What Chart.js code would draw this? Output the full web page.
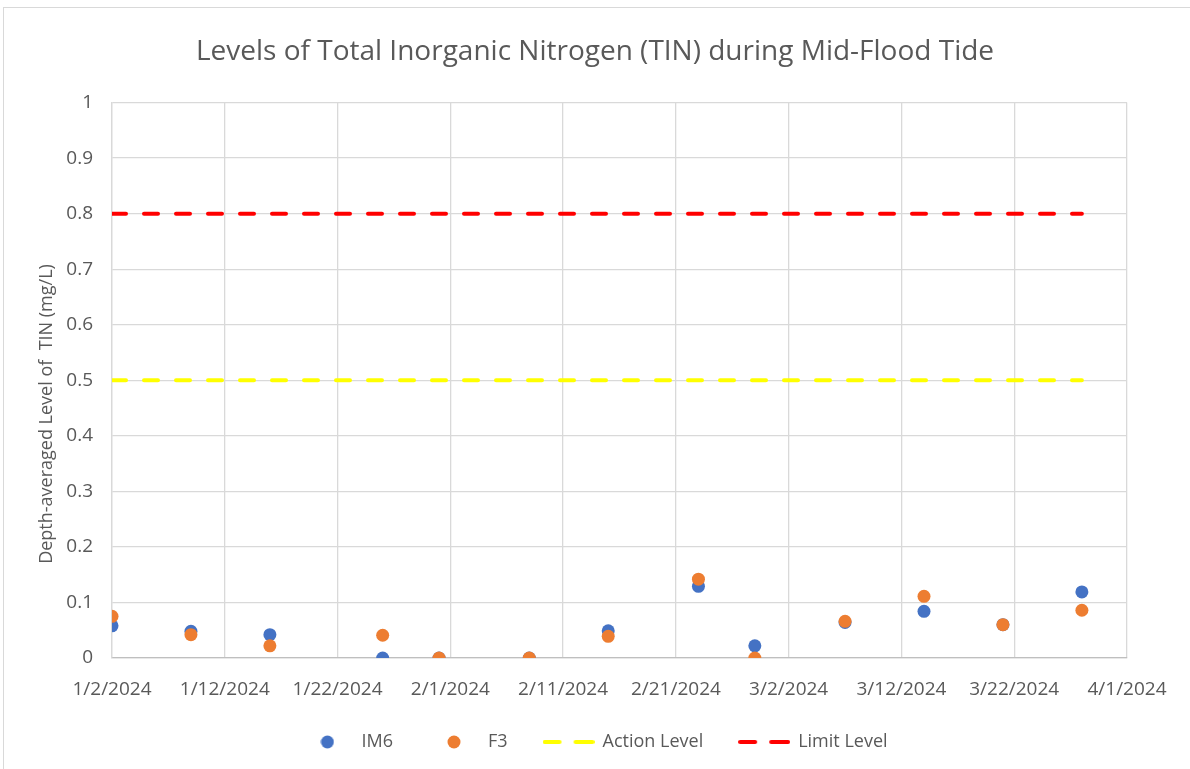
<!DOCTYPE html>
<html>
<head>
<meta charset="utf-8">
<script src="https://cdn.jsdelivr.net/npm/chart.js@4.4.1/dist/chart.umd.min.js"></script>
<style>
  html, body { margin:0; padding:0; background:#fff; overflow:hidden; }
  #frame { position:absolute; left:3px; top:7px; width:1400px; height:900px; border:1px solid #d9d9d9; }
  #wrap { position:absolute; left:0; top:0; width:1190px; height:769px; }
</style>
</head>
<body>
<div id="frame"></div>
<div id="wrap"><canvas id="tinChart" width="1190" height="769"></canvas></div>
<script>
// Sampling dates and TIN levels (mg/L)
const startDate = "2024-01-02";
const sampleDates = ["2024-01-02","2024-01-09","2024-01-16","2024-01-26","2024-01-31","2024-02-08","2024-02-15","2024-02-23","2024-02-28","2024-03-07","2024-03-14","2024-03-21","2024-03-28"];
const im6Values = [0.058, 0.048, 0.042, 0, 0, 0, 0.049, 0.129, 0.022, 0.064, 0.084, 0.060, 0.119];
const f3Values  = [0.075, 0.042, 0.022, 0.041, 0, 0, 0.039, 0.142, 0, 0.066, 0.111, 0.060, 0.086];
const actionLevel = 0.5;
const limitLevel = 0.8;
const xTickLabels = ["1/2/2024","1/12/2024","1/22/2024","2/1/2024","2/11/2024","2/21/2024","3/2/2024","3/12/2024","3/22/2024","4/1/2024"];
const yTitle = "Depth-averaged Level of  TIN (mg/L)";

const DAY = 86400000;
const dayOf = d => Math.round((Date.parse(d) - Date.parse(startDate)) / DAY);
const days = sampleDates.map(dayOf);
const firstDay = days[0], lastDay = days[days.length-1];

const FONT = "'Open Sans', 'Liberation Sans', sans-serif";
const TXT = "#595959";

// legend symbols
function dotIcon(color){
  const c = document.createElement("canvas"); c.width = 14; c.height = 14;
  const g = c.getContext("2d");
  g.fillStyle = color; g.beginPath(); g.arc(7, 7, 6.5, 0, Math.PI*2); g.fill();
  return c;
}
function dashIcon(color){
  const c = document.createElement("canvas"); c.width = 52; c.height = 6;
  const g = c.getContext("2d");
  g.strokeStyle = color; g.lineWidth = 4; g.lineCap = "round";
  g.beginPath(); g.moveTo(2, 3); g.lineTo(17, 3); g.moveTo(33, 3); g.lineTo(50, 3); g.stroke();
  return c;
}
const icons = [dotIcon("#4472C4"), dotIcon("#ED7D31"), dashIcon("#FFFF00"), dashIcon("#FF0000")];

// y axis title, placed like the original (a bit below centre)
const yTitlePlugin = {
  id:"yTitle",
  afterDraw(chart){
    const ctx = chart.ctx;
    ctx.save();
    ctx.translate(47, 414);
    ctx.rotate(-Math.PI/2);
    ctx.fillStyle = TXT;
    ctx.font = "18px " + FONT;
    ctx.textAlign = "center"; ctx.textBaseline = "middle";
    ctx.fillText(yTitle, 0, 0);
    ctx.restore();
  }
};

const data = {
  datasets: [
    { label:"IM6", type:"scatter", order:2, data: days.map((d,i)=>({x:d, y:im6Values[i]})),
      backgroundColor:"#4472C4", borderWidth:0, pointRadius:6.5, pointHoverRadius:6.5 },
    { label:"F3", type:"scatter", order:1, data: days.map((d,i)=>({x:d, y:f3Values[i]})),
      backgroundColor:"#ED7D31", borderWidth:0, pointRadius:6.5, pointHoverRadius:6.5 },
    { label:"Action Level", type:"line", order:3, data:[{x:firstDay, y:actionLevel},{x:lastDay, y:actionLevel}],
      borderColor:"#FFFF00", borderWidth:4, borderDash:[14,18], borderCapStyle:"round", pointRadius:0, fill:false },
    { label:"Limit Level", type:"line", order:4, data:[{x:firstDay, y:limitLevel},{x:lastDay, y:limitLevel}],
      borderColor:"#FF0000", borderWidth:4, borderDash:[14,18], borderCapStyle:"round", pointRadius:0, fill:false }
  ]
};

new Chart(document.getElementById("tinChart"), {
  type:"scatter",
  data:data,
  plugins:[yTitlePlugin],
  options:{
    responsive:false, animation:false,
    layout:{ padding:{ left:0, right:0, top:0, bottom:8 } },
    plugins:{
      tooltip:{ enabled:false },
      title:{ display:true, text:"Levels of Total Inorganic Nitrogen (TIN) during Mid-Flood Tide",
        color:TXT, font:{ family:FONT, size:28, weight:"normal" }, padding:{ top:35, bottom:34 } },
      legend:{ position:"bottom",
        labels:{ usePointStyle:true, pointStyleWidth:50, padding:36, color:TXT,
          font:{ family:FONT, size:18 },
          generateLabels: chart => chart.data.datasets.map((ds,i)=>({
            text: ds.label, pointStyle: icons[i], datasetIndex:i, fontColor:TXT,
            lineWidth:0, strokeStyle:"transparent", fillStyle:"transparent", hidden:false })) } }
    },
    scales:{
      x:{ type:"linear", min:0, max:90,
        afterFit: s => { s.height = 39; },
        ticks:{ stepSize:10, padding:20, color:TXT, font:{ family:FONT, size:19 },
          callback: v => xTickLabels[Math.round(v/10)] },
        grid:{ color:"#d9d9d9", lineWidth:1.3, drawTicks:false },
        border:{ color:"#bfbfbf", width:1.3 } },
      y:{ min:0, max:1,
        afterFit: s => { s.width = 112; },
        ticks:{ stepSize:0.1, padding:19, color:TXT, font:{ family:FONT, size:19 },
          callback: v => String(Math.round(v*10)/10) },
        grid:{ color:"#d9d9d9", lineWidth:1.3, drawTicks:false },
        border:{ color:"#d9d9d9", width:1.3 } },
      // empty right margin, so title and legend stay centred on the whole picture
      yRight:{ position:"right", display:true, min:0, max:1,
        afterFit: s => { s.width = 63; },
        ticks:{ display:false }, grid:{ display:false, drawTicks:false }, border:{ display:false } }
    }
  }
});
</script>
</body>
</html>
